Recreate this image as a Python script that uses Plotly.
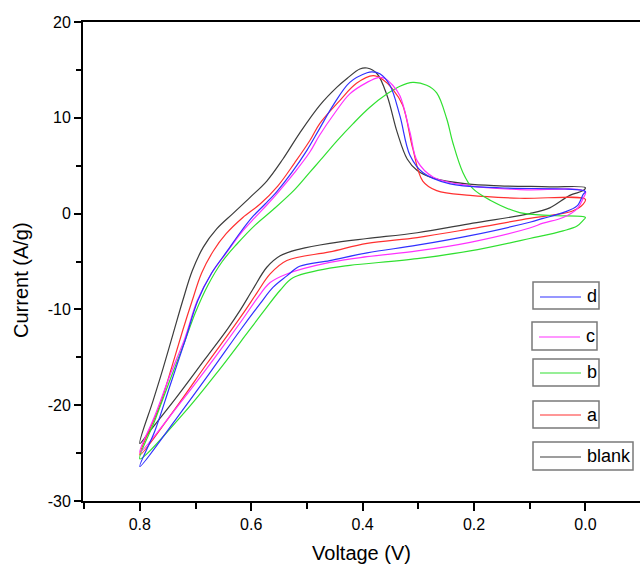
import plotly.graph_objects as go

# ---------------- data (voltage V, current A/g), loop: 0.8 V -> 0 V (upper) -> 0.8 V (lower)
series_names = ["blank", "a", "b", "c", "d"]
series_colors = ["#3c3c3c", "#ff3030", "#30e030", "#ff30ff", "#3030ff"]

blank_v = [0.800, 0.776, 0.758, 0.740, 0.723, 0.706, 0.686, 0.662, 0.633, 0.602, 0.572, 0.543, 0.513, 0.477,
           0.446, 0.428, 0.405, 0.392, 0.374, 0.356, 0.338, 0.320, 0.302, 0.273, 0.213, 0.154, 0.064, 0.000,
           0.004, 0.028, 0.064, 0.100, 0.202, 0.302, 0.392, 0.459, 0.513, 0.548, 0.572, 0.597, 0.620, 0.642,
           0.683, 0.737, 0.782, 0.800]
blank_i = [-24.0, -19.5, -16.1, -12.5, -9.1, -6.0, -3.5, -1.6, 0.0, 1.7, 3.4, 5.7, 8.4, 11.3,
           13.2, 14.1, 15.1, 15.2, 14.6, 12.3, 8.5, 5.7, 4.5, 3.7, 3.1, 2.9, 2.8, 2.7,
           2.4, 1.9, 0.6, 0.0, -1.0, -2.0, -2.6, -3.1, -3.7, -4.4, -5.6, -7.9, -10.1, -12.0,
           -15.2, -19.4, -22.7, -24.0]

a_v = [0.800, 0.764, 0.742, 0.723, 0.706, 0.689, 0.668, 0.645, 0.615, 0.584, 0.552, 0.522, 0.495, 0.477,
       0.441, 0.411, 0.381, 0.364, 0.346, 0.328, 0.310, 0.292, 0.267, 0.207, 0.118, 0.000,
       0.004, 0.022, 0.064, 0.100, 0.207, 0.302, 0.392, 0.459, 0.536, 0.566, 0.590, 0.612, 0.640,
       0.680, 0.737, 0.800]
a_i = [-25.2, -20.0, -15.9, -12.2, -9.1, -6.2, -3.9, -2.1, -0.4, 1.0, 2.9, 5.3, 7.6, 9.4,
       11.8, 13.6, 14.4, 14.0, 13.0, 11.3, 6.8, 3.4, 2.4, 1.9, 1.6, 1.5,
       1.0, 0.3, -0.2, -0.5, -1.6, -2.5, -3.1, -4.0, -4.9, -6.3, -8.3, -10.2, -12.5,
       -15.7, -20.4, -25.2]

b_v = [0.800, 0.773, 0.746, 0.719, 0.700, 0.678, 0.652, 0.626, 0.593, 0.561, 0.522, 0.495, 0.477, 0.446,
       0.417, 0.387, 0.356, 0.333, 0.310, 0.285, 0.267, 0.249, 0.238, 0.220, 0.202, 0.171, 0.118,
       0.058, 0.000,
       0.004, 0.015, 0.040, 0.100, 0.207, 0.302, 0.423, 0.459, 0.525, 0.548, 0.575, 0.605, 0.656,
       0.719, 0.800]
b_i = [-25.6, -21.6, -17.4, -13.3, -10.3, -7.5, -5.0, -3.2, -1.2, 0.4, 2.5, 4.3, 5.5, 7.6,
       9.4, 11.1, 12.5, 13.3, 13.7, 13.4, 12.6, 9.9, 7.4, 4.3, 2.6, 1.4, 0.1,
       -0.2, -0.4,
       -0.7, -1.3, -1.8, -2.6, -3.9, -4.7, -5.4, -5.7, -6.7, -8.0, -10.0, -12.3, -16.2,
       -20.7, -25.6]

c_v = [0.800, 0.773, 0.746, 0.719, 0.697, 0.671, 0.642, 0.618, 0.593, 0.572, 0.552, 0.522, 0.495, 0.477, 0.450,
       0.423, 0.392, 0.372, 0.360, 0.346, 0.333, 0.315, 0.302, 0.273, 0.207, 0.118, 0.000,
       0.004, 0.015, 0.040, 0.076, 0.100, 0.207, 0.302, 0.392, 0.459, 0.536, 0.566, 0.590, 0.615,
       0.665, 0.728, 0.800]
c_i = [-24.9, -21.1, -16.9, -13.0, -9.1, -6.2, -3.9, -2.0, -0.4, 0.9, 2.2, 4.3, 6.4, 8.2, 10.5,
       12.5, 13.7, 14.2, 14.1, 13.4, 12.3, 8.5, 5.5, 3.8, 2.9, 2.5, 2.3,
       1.6, 0.5, -0.4, -1.0, -1.5, -3.0, -3.9, -4.5, -5.1, -6.3, -7.2, -8.9, -11.0,
       -15.0, -19.8, -24.9]

d_v = [0.800, 0.773, 0.746, 0.719, 0.696, 0.671, 0.643, 0.620, 0.597, 0.575, 0.554, 0.527, 0.500, 0.477, 0.453,
       0.423, 0.392, 0.383, 0.369, 0.351, 0.333, 0.315, 0.292, 0.243, 0.154, 0.000,
       0.004, 0.015, 0.040, 0.076, 0.100, 0.207, 0.302, 0.392, 0.459, 0.513, 0.536, 0.561, 0.584,
       0.620, 0.674, 0.737, 0.800]
d_i = [-26.4, -22.7, -18.0, -13.3, -9.1, -6.2, -3.9, -2.0, -0.3, 1.0, 2.3, 4.3, 6.6, 8.9, 11.3,
       13.7, 14.7, 14.8, 14.6, 13.4, 10.2, 6.1, 4.3, 3.1, 2.7, 2.3,
       2.0, 0.8, 0.1, -0.5, -0.9, -2.3, -3.3, -4.1, -4.9, -5.5, -6.5, -7.7, -9.4,
       -12.2, -16.6, -21.6, -26.4]

series_v = [blank_v, a_v, b_v, c_v, d_v]
series_i = [blank_i, a_i, b_i, c_i, d_i]

x_tickvals = [0.8, 0.6, 0.4, 0.2, 0.0]
x_ticktext = ["0.8", "0.6", "0.4", "0.2", "0.0"]
y_tickvals = [-30, -20, -10, 0, 10, 20]
y_ticktext = ["-30", "-20", "-10", "0", "10", "20"]

# legend order (top to bottom)
legend_order = ["d", "c", "b", "a", "blank"]

# ---------------- figure
W, H = 640, 572
ML, MR, MT, MB = 83, 0, 22, 71
FONT = "Arial, Liberation Sans, sans-serif"

fig = go.Figure()
for name, color, vv, ii in zip(series_names, series_colors, series_v, series_i):
    fig.add_trace(go.Scatter(x=vv, y=ii, mode="lines", name=name,
                             line=dict(color=color, width=1.2, shape="spline", smoothing=1.0),
                             showlegend=False))

def px_x(p):
    return (p - ML) / (W - ML - MR)

def px_y(p):
    return (H - MB - p) / (H - MT - MB)

# legend boxes (individual framed entries)
legend_boxes = {  # left, top, right, bottom, line y
    "d": (533, 282, 599, 309, 297),
    "c": (532, 322, 597, 350, 337),
    "b": (533, 359, 599, 386, 373),
    "a": (533, 401, 599, 428, 415),
    "blank": (533, 442, 633, 470, 457),
}
color_of = dict(zip(series_names, series_colors))
for nm in legend_order:
    l, t, r, b, ly = legend_boxes[nm]
    fig.add_shape(type="rect", xref="paper", yref="paper",
                  x0=px_x(l), x1=px_x(r), y0=px_y(b), y1=px_y(t),
                  line=dict(color="#7a7a7a", width=1.5), fillcolor="white", layer="above")
    fig.add_shape(type="line", xref="paper", yref="paper",
                  x0=px_x(l + 7), x1=px_x(l + 48), y0=px_y(ly), y1=px_y(ly),
                  line=dict(color=color_of[nm], width=1.2), layer="above")
    fig.add_annotation(xref="paper", yref="paper", x=px_x(l + 52), y=px_y((t + b) / 2),
                       text=nm, showarrow=False, xanchor="left", yanchor="middle",
                       font=dict(family=FONT, size=18, color="black"))

# y-axis title
fig.add_annotation(xref="paper", yref="paper", x=px_x(21), y=px_y(280),
                   text="Current (A/g)", textangle=-90, showarrow=False,
                   xanchor="center", yanchor="middle",
                   font=dict(family=FONT, size=20, color="black"))

fig.update_layout(
    width=W, height=H,
    margin=dict(l=ML, r=MR, t=MT, b=MB),
    paper_bgcolor="white", plot_bgcolor="white",
    font=dict(family=FONT, size=16, color="black"),
    xaxis=dict(range=[0.902, -0.098], showgrid=False, zeroline=False,
               showline=True, linecolor="black", linewidth=2, mirror=True,
               ticks="outside", ticklen=8, tickwidth=2, tickcolor="black",
               tickmode="array", tickvals=x_tickvals, ticktext=x_ticktext,
               tickfont=dict(family=FONT, size=16),
               minor=dict(tickmode="linear", tick0=0.1, dtick=0.2, ticks="outside",
                          ticklen=6, tickwidth=2, tickcolor="black", showgrid=False),
               title=dict(text="Voltage (V)", font=dict(family=FONT, size=20), standoff=14)),
    yaxis=dict(range=[-30, 20], showgrid=False, zeroline=False,
               showline=True, linecolor="black", linewidth=2, mirror=False,
               ticks="outside", ticklen=7, tickwidth=2, tickcolor="black",
               tickmode="array", tickvals=y_tickvals, ticktext=y_ticktext,
               tickfont=dict(family=FONT, size=16),
               minor=dict(tickmode="linear", tick0=5, dtick=10, ticks="outside",
                          ticklen=5, tickwidth=2, tickcolor="black", showgrid=False)),
)

fig.write_html("out.html", config={"displayModeBar": False},
               post_script="document.body.style.margin='0';document.body.style.overflow='hidden';")
